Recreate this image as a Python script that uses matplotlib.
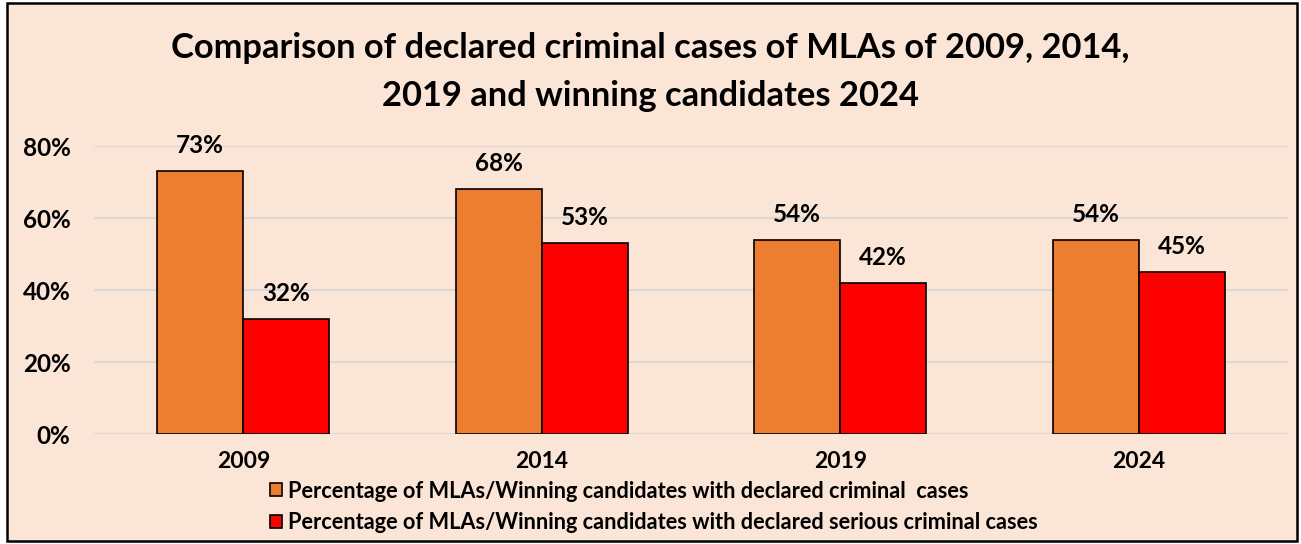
import matplotlib.pyplot as plt
import matplotlib.patches as mpatches
import numpy as np

YEARS = ['2009', '2014', '2019', '2024']
CRIMINAL = [73, 68, 54, 54]
SERIOUS = [32, 53, 42, 45]
LABELS = ['Percentage of MLAs/Winning candidates with declared criminal  cases',
          'Percentage of MLAs/Winning candidates with declared serious criminal cases']
COLORS = ['#ED7D31', '#FF0000']
BG = '#FBE5D6'

plt.rcParams['font.family'] = ['Lato', 'DejaVu Sans']
plt.rcParams['font.weight'] = 'bold'

fig = plt.figure(figsize=(13.01, 5.44), dpi=100, facecolor='white')
# peach chart area with a black frame
fig.patches.append(mpatches.Rectangle((7 / 1301, 3 / 544), 1290 / 1301, 538 / 544,
                                      transform=fig.transFigure, facecolor=BG,
                                      edgecolor='black', linewidth=1.8, zorder=-10))

ax = fig.add_axes([94 / 1301, 1 - 434 / 544, 1194 / 1301, 288 / 544])
ax.set_facecolor('none')
ax.set_zorder(2)

x = np.arange(len(YEARS))
w = 0.288
b1 = ax.bar(x - w / 2, CRIMINAL, w, color=COLORS[0], edgecolor='black', linewidth=1.2,
            label=LABELS[0], zorder=3)
b2 = ax.bar(x + w / 2, SERIOUS, w, color=COLORS[1], edgecolor='black', linewidth=1.2,
            label=LABELS[1], zorder=3)
for bars in (b1, b2):
    ax.bar_label(bars, labels=[f'{v}%' for v in bars.datavalues], padding=10,
                 fontsize=17.5, fontweight='bold', clip_on=False)

ax.set_xlim(-0.5, 3.5)
ax.set_ylim(0, 80)
ax.set_yticks([0, 20, 40, 60, 80])
ax.set_yticklabels([f'{t}%' for t in [0, 20, 40, 60, 80]], fontsize=17.5, fontweight='bold')
ax.set_xticks(x)
ax.set_xticklabels(YEARS, fontsize=16.5, fontweight='bold')
ax.tick_params(axis='both', length=0)
ax.tick_params(axis='y', pad=17)
ax.tick_params(axis='x', pad=12)
ax.grid(axis='y', color='#D9D9D9', linewidth=1.5, zorder=0)
for s in ax.spines.values():
    s.set_visible(False)

fig.text(0.5, 1 - 48 / 544, 'Comparison of declared criminal cases of MLAs of 2009, 2014,',
         ha='center', va='center', fontsize=24.8, fontweight='bold')
fig.text(0.5, 1 - 96 / 544, '2019 and winning candidates 2024',
         ha='center', va='center', fontsize=24.8, fontweight='bold')

fig.legend(handles=[b1, b2], loc='center left', bbox_to_anchor=(259 / 1301, 1 - 507 / 544),
           frameon=False, fontsize=15.7, handlelength=0.55, handleheight=0.55,
           handletextpad=0.3, labelspacing=0.5, borderpad=0)

fig.savefig('out.png', dpi=100, facecolor='white')
